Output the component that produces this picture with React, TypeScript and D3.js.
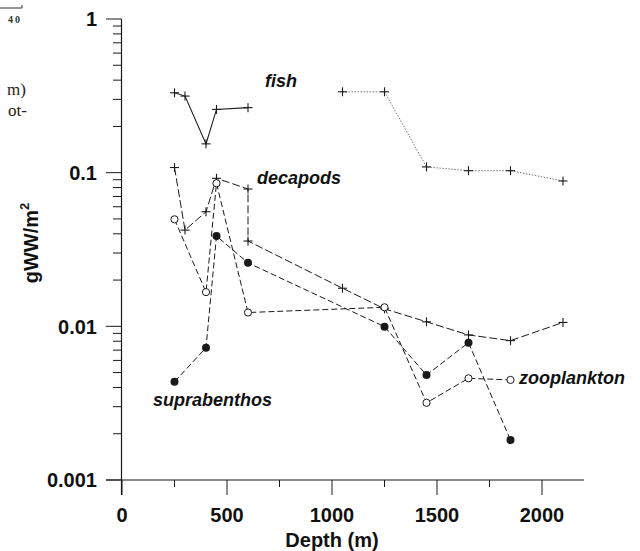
import React from "react";
import * as d3 from "d3";

const fishDepthA = [250, 300, 400, 450, 600];
const fishValA = [0.331, 0.315, 0.154, 0.258, 0.265];
const fishDepthB = [1050, 1250, 1450, 1650, 1850, 2100];
const fishValB = [0.336, 0.336, 0.109, 0.103, 0.103, 0.0883];
const decaDepth = [250, 300, 400, 450, 600, 600, 1050, 1250, 1450, 1650, 1850, 2100];
const decaVal = [0.108, 0.0423, 0.0557, 0.0919, 0.0783, 0.0359, 0.0177, 0.013, 0.0107, 0.00879, 0.00807, 0.0106];
const zooDepth = [250, 400, 450, 600, 1250, 1450, 1650, 1850];
const zooVal = [0.0497, 0.0167, 0.0853, 0.0123, 0.0133, 0.00318, 0.00459, 0.00448];
const supDepth = [250, 400, 450, 600, 1250, 1450, 1650, 1850];
const supVal = [0.00436, 0.00726, 0.0387, 0.0259, 0.00995, 0.00482, 0.00783, 0.00182];
const xTicksMajor = [0, 500, 1000, 1500, 2000];
const xTicksMinor = [250, 750, 1250, 1750];
const yTicksMajor = [1, 0.1, 0.01, 0.001];
const yTickLabels = ["1", "0.1", "0.01", "0.001"];

const x = d3.scaleLinear().domain([0, 2200]).range([122, 584]);
const y = d3.scaleLog().domain([0.001, 1]).range([480, 19]);

type P = [number, number];
const zip = (a: number[], b: number[]): P[] => a.map((d, i) => [d, b[i]]);
const line = d3.line<P>().x((d) => x(d[0])).y((d) => y(d[1]));

const ink = "#1a1a1a";
const sans = "'Liberation Sans', Arial, sans-serif";

function Plus({ p, color = ink }: { p: P; color?: string }) {
  const cx = x(p[0]);
  const cy = y(p[1]);
  return (
    <g stroke={color} strokeWidth={1.1}>
      <line x1={cx - 4.5} x2={cx + 4.5} y1={cy} y2={cy} />
      <line x1={cx} x2={cx} y1={cy - 4.5} y2={cy + 4.5} />
    </g>
  );
}

export default function App() {
  const minor: number[] = [];
  for (let e = -3; e < 0; e++) for (let k = 2; k <= 9; k++) minor.push(k * Math.pow(10, e));
  const fishA = zip(fishDepthA, fishValA);
  const fishB = zip(fishDepthB, fishValB);
  const deca = zip(decaDepth, decaVal);
  const zoo = zip(zooDepth, zooVal);
  const sup = zip(supDepth, supVal);
  return (
    <svg width={640} height={551} style={{ position: "absolute", left: 0, top: 0, background: "#fff" }}>
      <rect width={640} height={551} fill="#fff" />
      {/* fragments of neighbouring page */}
      <line x1={0} x2={22} y1={8} y2={8} stroke="#333" strokeWidth={1} />
      <line x1={22} x2={22} y1={5} y2={8} stroke="#333" strokeWidth={1} />
      <text x={8} y={23} fontFamily="'Liberation Serif', serif" fontSize={10} fontWeight="bold" letterSpacing={2} fill="#333">40</text>
      <text x={26} y={95} textAnchor="end" fontFamily="'Liberation Serif', serif" fontSize={17} fill="#222">m)</text>
      <text x={27} y={116} textAnchor="end" fontFamily="'Liberation Serif', serif" fontSize={17} fill="#222">ot-</text>

      {/* axes */}
      <line x1={121.5} x2={121.5} y1={19} y2={495} stroke={ink} strokeWidth={1.2} />
      <line x1={106} x2={584} y1={480} y2={480} stroke={ink} strokeWidth={1.2} />
      {yTicksMajor.map((v, i) => (
        <g key={"ym" + v}>
          <line x1={106} x2={121.5} y1={y(v)} y2={y(v)} stroke={ink} strokeWidth={1} />
          <text x={97} y={y(v)} dy="0.36em" textAnchor="end" fontFamily={sans} fontWeight="bold" fontSize={20} fill="#111">
            {yTickLabels[i]}
          </text>
        </g>
      ))}
      {minor.map((v) => (
        <line key={"yn" + v} x1={113} x2={121.5} y1={y(v)} y2={y(v)} stroke={ink} strokeWidth={1} />
      ))}
      {xTicksMajor.map((v) => (
        <g key={"xm" + v}>
          <line x1={x(v)} x2={x(v)} y1={480} y2={495} stroke={ink} strokeWidth={1} />
          <text x={x(v)} y={522} textAnchor="middle" fontFamily={sans} fontWeight="bold" fontSize={20} fill="#111">
            {v}
          </text>
        </g>
      ))}
      {xTicksMinor.map((v) => (
        <line key={"xn" + v} x1={x(v)} x2={x(v)} y1={480} y2={487} stroke={ink} strokeWidth={1} />
      ))}
      <text x={x(1000)} y={547} textAnchor="middle" fontFamily={sans} fontWeight="bold" fontSize={20} fill="#111">
        Depth (m)
      </text>
      <text transform="translate(38,243) rotate(-90)" textAnchor="middle" fontFamily={sans} fontWeight="bold" fontSize={20} fill="#111">
        gWW/m<tspan dy={-9} fontSize={13}>2</tspan>
      </text>

      {/* series lines */}
      <path d={line(fishA) || ""} fill="none" stroke={ink} strokeWidth={1.1} />
      <path d={line(fishB) || ""} fill="none" stroke="#777" strokeWidth={1} strokeDasharray="1.5,1.5" />
      <path d={line(deca) || ""} fill="none" stroke={ink} strokeWidth={1} strokeDasharray="8,3" />
      <path d={line(zoo) || ""} fill="none" stroke={ink} strokeWidth={1} strokeDasharray="6,3" />
      <path d={line(sup) || ""} fill="none" stroke={ink} strokeWidth={1} strokeDasharray="6,3" />

      {/* markers */}
      {fishA.map((p, i) => <Plus key={"fa" + i} p={p} />)}
      {fishB.map((p, i) => <Plus key={"fb" + i} p={p} />)}
      {deca.map((p, i) => <Plus key={"d" + i} p={p} />)}
      {zoo.map((p, i) => (
        <circle key={"z" + i} cx={x(p[0])} cy={y(p[1])} r={3.6} fill="#fff" stroke={ink} strokeWidth={1} />
      ))}
      {sup.map((p, i) => (
        <circle key={"s" + i} cx={x(p[0])} cy={y(p[1])} r={4} fill={ink} />
      ))}

      {/* labels */}
      <g fontFamily={sans} fontWeight="bold" fontStyle="italic" fontSize={18} fill="#111">
        <text x={265} y={87}>fish</text>
        <text x={257} y={184}>decapods</text>
        <text x={153} y={406}>suprabenthos</text>
        <text x={519} y={384}>zooplankton</text>
      </g>
    </svg>
  );
}
